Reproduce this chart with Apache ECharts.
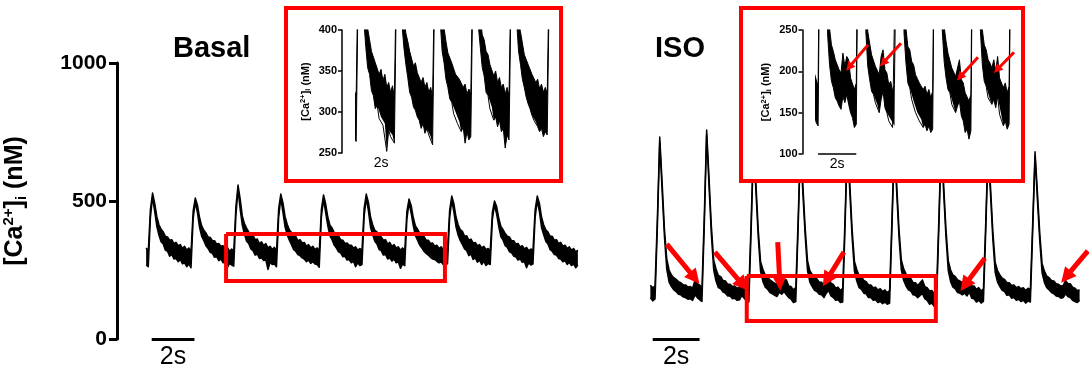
<!DOCTYPE html>
<html>
<head>
<meta charset="utf-8">
<script src="https://cdn.jsdelivr.net/npm/echarts@6/dist/echarts.min.js"></script>
<style>
  html, body { margin: 0; padding: 0; background: #fff; }
  #chart { width: 1089px; height: 378px; }
</style>
</head>
<body>
<div id="chart"></div>
<script>
// sampling interval of the traces (s)
const DT = 0.1;
const BASAL_T0 = 0.1;
const ISO_T0 = 0.1;

// [Ca2+]i (nM) noise band of each trace: lower and upper edge, one value every DT s
const basalLow = [
  268, 262,
  440, 514, 462, 408, 376, 352, 344, 322, 318, 300, 306, 290, 292, 280, 288, 272, 276, 262, 272, 258,
  436, 496, 458, 404, 372, 356, 338, 328, 314, 310, 296, 298, 284, 290, 276, 280, 258, 274, 268, 264,
  448, 542, 470, 412, 380, 354, 346, 326, 320, 304, 308, 292, 294, 284, 286, 252, 278, 270, 272, 262,
  440, 510, 460, 406, 378, 358, 342, 324, 318, 306, 302, 294, 290, 280, 286, 274, 280, 272, 270, 260,
  442, 506, 458, 410, 374, 360, 340, 330, 316, 312, 298, 300, 286, 288, 276, 282, 262, 276, 266, 270,
  444, 510, 464, 404, 378, 354, 344, 324, 320, 304, 306, 290, 294, 282, 290, 276, 280, 256, 272, 266,
  434, 492, 456, 410, 374, 358, 340, 330, 318, 310, 304, 296, 290, 288, 282, 276, 280, 270, 276, 272,
  438, 502, 460, 406, 376, 356, 342, 326, 320, 302, 308, 288, 294, 278, 286, 270, 282, 266, 274, 270,
  432, 486, 452, 406, 370, 358, 338, 332, 316, 312, 300, 298, 286, 290, 278, 280, 258, 276, 268, 272,
  440, 502, 462, 404, 378, 354, 344, 324, 318, 306, 304, 292, 290, 280, 284, 270, 278, 266, 272, 258,
  268
];
const basalHigh = [
  330, 318,
  470, 529, 492, 444, 414, 398, 388, 372, 370, 358, 360, 346, 350, 338, 342, 328, 336, 322, 330, 316,
  464, 511, 486, 440, 410, 394, 384, 370, 368, 356, 356, 344, 346, 336, 338, 326, 332, 318, 326, 320,
  480, 558, 508, 446, 418, 402, 388, 374, 376, 360, 362, 346, 352, 338, 346, 330, 336, 324, 332, 318,
  472, 525, 494, 444, 416, 396, 386, 374, 372, 356, 360, 348, 350, 336, 342, 330, 336, 324, 330, 318,
  470, 522, 490, 442, 412, 402, 386, 372, 374, 360, 358, 346, 348, 340, 340, 330, 334, 322, 328, 322,
  474, 525, 496, 442, 414, 394, 388, 374, 370, 358, 360, 344, 350, 336, 342, 330, 334, 322, 330, 320,
  462, 507, 484, 440, 410, 398, 384, 370, 372, 358, 358, 346, 348, 336, 340, 328, 334, 324, 330, 322,
  466, 518, 490, 442, 414, 396, 390, 372, 374, 358, 362, 348, 350, 338, 342, 330, 336, 324, 328, 320,
  460, 500, 480, 438, 408, 396, 382, 372, 370, 356, 356, 344, 346, 334, 338, 326, 332, 320, 326, 322,
  468, 518, 492, 442, 414, 396, 388, 372, 372, 358, 360, 346, 350, 336, 340, 328, 334, 322, 328, 316,
  322
];
const isoLow = [
  150, 138, 145,
  405, 715, 540, 372, 252, 206, 190, 178, 172, 162, 160, 152, 150, 144, 146, 140, 160, 150, 142, 136,
  410, 740, 556, 380, 250, 210, 186, 182, 170, 166, 156, 156, 146, 148, 140, 142, 158, 148, 138, 134,
  400, 704, 536, 368, 244, 208, 188, 180, 168, 164, 158, 154, 170, 162, 172, 160, 150, 144, 132, 136,
  398, 700, 532, 374, 248, 206, 190, 176, 172, 162, 160, 150, 166, 176, 156, 150, 140, 142, 132, 134,
  404, 708, 538, 370, 246, 210, 186, 180, 166, 164, 150, 150, 140, 142, 132, 136, 128, 134, 126, 130,
  402, 702, 534, 368, 250, 212, 192, 178, 174, 160, 158, 150, 158, 164, 146, 140, 126, 130, 118, 128,
  404, 706, 536, 372, 248, 208, 188, 182, 168, 166, 160, 166, 156, 170, 148, 146, 134, 140, 130, 136,
  394, 690, 526, 362, 242, 206, 190, 176, 172, 158, 160, 148, 150, 140, 144, 136, 140, 130, 138, 134,
  390, 662, 504, 356, 240, 204, 186, 178, 168, 164, 156, 154, 148, 150, 164, 154, 150, 140, 136, 132,
  140
];
const isoHigh = [
  195, 186, 192,
  440, 732, 572, 400, 290, 250, 232, 222, 216, 208, 204, 196, 196, 188, 190, 184, 212, 200, 196, 184,
  448, 757, 588, 412, 286, 254, 230, 226, 212, 210, 198, 198, 190, 192, 184, 188, 208, 198, 190, 182,
  436, 720, 566, 396, 280, 252, 232, 224, 214, 208, 202, 198, 222, 206, 218, 214, 192, 190, 178, 186,
  432, 715, 562, 404, 284, 248, 234, 220, 218, 206, 206, 196, 218, 226, 202, 198, 184, 188, 176, 184,
  440, 725, 570, 400, 282, 252, 230, 226, 212, 208, 196, 196, 186, 188, 178, 182, 172, 178, 168, 176,
  436, 718, 564, 398, 286, 254, 236, 222, 220, 204, 204, 194, 204, 214, 190, 186, 174, 176, 164, 172,
  438, 722, 566, 402, 284, 250, 232, 226, 214, 210, 204, 214, 200, 218, 192, 192, 180, 186, 174, 182,
  428, 705, 554, 392, 278, 248, 232, 220, 216, 204, 204, 194, 196, 186, 190, 182, 186, 176, 184, 178,
  422, 678, 534, 386, 274, 246, 228, 222, 212, 210, 200, 198, 192, 194, 212, 200, 200, 188, 184, 176,
  178
];

// axis ticks
const mainTicks = [0, 500, 1000];
const basalInsetTicks = [250, 400];
const isoInsetTicks = [100, 250];

// x ranges (s)
const basalRange = [0, 20.4];
const isoRange = [0, 18.8];
const basalInsetT = [4.19, 14.45];
const isoInsetT = [4.19, 14.4];

// zoomed windows: [t0, t1] and [ca0, ca1]
const basalBoxT = [3.84, 14.08];
const basalBoxCa = [210, 380];
const isoBoxT = [4.21, 12.27];
const isoBoxCa = [65, 228];

// 2 s scale bars [t start, t end, ca]
const basalBar = [0.36, 2.36, 0];
const isoBar = [0.2, 2.2, 0];
const basalInsetBar = [4.5, 6.5, 250];
const isoInsetBar = [4.3, 6.3, 100];

// arrows: [t tail, ca tail, t head, ca head]
const isoArrows = [
  [0.80, 344, 1.99, 221],
  [2.85, 315, 4.04, 196],
  [5.53, 351, 5.62, 203],
  [8.35, 315, 7.62, 214],
  [14.36, 293, 13.51, 196],
  [18.75, 319, 17.82, 225]
];
const isoInsetArrows = [
  [6.91, 232, 5.92, 205],
  [8.64, 234, 7.70, 210],
  [12.67, 217, 11.73, 193],
  [14.56, 223, 13.67, 202]
];

const FONT = "'Liberation Sans', Arial, sans-serif";
const RED = '#ff0000';
// x axes are time axes (ms) so that stacking works on the Ca values
const ms = s => Math.round(s * 1000);

function timed(values, t0) {
  return values.map((v, i) => [ms(t0 + i * DT), v]);
}
const basalLowData = timed(basalLow, BASAL_T0);
const basalBandData = timed(basalHigh.map((v, i) => v - basalLow[i]), BASAL_T0);
const isoLowData = timed(isoLow, ISO_T0);
const isoBandData = timed(isoHigh.map((v, i) => v - isoLow[i]), ISO_T0);

function boxPath(t, c) {
  return [[ms(t[0]), c[1]], [ms(t[1]), c[1]], [ms(t[1]), c[0]], [ms(t[0]), c[0]], [ms(t[0]), c[1]]];
}

function arrowData(list) {
  return list.map(a => ({ coords: [[ms(a[0]), a[1]], [ms(a[2]), a[3]]] }));
}

// the basal inset bar is white in the original, only its label shows
function scaleBar(bar, width, size, color, dist) {
  return {
    silent: true,
    symbol: 'none',
    animation: false,
    lineStyle: { color: color, width: width, type: 'solid' },
    label: {
      show: true,
      formatter: '2s',
      position: 'insideMiddleBottom',
      distance: dist,
      color: '#000',
      fontFamily: FONT,
      fontSize: size
    },
    data: [[{ coord: [ms(bar[0]), bar[2]] }, { coord: [ms(bar[1]), bar[2]] }]]
  };
}

// a trace = lower edge + stacked band filled in black
function trace(id, axis, lowData, bandData, z, lw, bar) {
  const common = {
    type: 'line', xAxisIndex: axis, yAxisIndex: axis, stack: id,
    symbol: 'none', z: z, silent: true,
    lineStyle: { color: '#000', width: lw, join: 'round' }
  };
  return [
    Object.assign({ name: id + ' low', data: lowData, markLine: bar }, common),
    Object.assign({ name: id + ' band', data: bandData, areaStyle: { color: '#000', opacity: 1 } }, common)
  ];
}

function caName(big, small, lh) {
  return {
    name: '{a|[Ca}{b|2+}{a|]}{c|i}{a| (nM)}',
    nameLocation: 'middle',
    nameTextStyle: {
      rich: {
        a: { fontSize: big, fontWeight: 'bold', fontFamily: FONT, color: '#000', lineHeight: lh },
        b: { fontSize: small, fontWeight: 'bold', fontFamily: FONT, color: '#000', lineHeight: small, verticalAlign: 'top' },
        c: { fontSize: small, fontWeight: 'bold', fontFamily: FONT, color: '#000', lineHeight: small, verticalAlign: 'bottom' }
      }
    }
  };
}

function axisStyle(lineW, tickLen, fontSize, margin) {
  return {
    axisLine: { show: true, onZero: false, lineStyle: { color: '#000', width: lineW } },
    axisTick: { show: true, length: tickLen, lineStyle: { color: '#000', width: lineW } },
    axisLabel: { margin: margin, color: '#000', fontFamily: FONT, fontSize: fontSize, fontWeight: 'bold', formatter: v => String(v) },
    splitLine: { show: false }
  };
}

function timeAxis(grid, range, z) {
  return { gridIndex: grid, type: 'time', min: ms(range[0]), max: ms(range[1]), show: false, z: z };
}

const chart = echarts.init(document.getElementById('chart'), null, { renderer: 'canvas' });

const option = {
  animation: false,
  backgroundColor: '#fff',
  title: [
    { text: 'Basal', left: 168, top: 29, textStyle: { fontFamily: FONT, fontSize: 29, fontWeight: 'bold', color: '#000' } },
    { text: 'ISO', left: 650, top: 29, textStyle: { fontFamily: FONT, fontSize: 29, fontWeight: 'bold', color: '#000' } }
  ],
  grid: [
    { left: 144, top: 63, width: 436, height: 276 },
    { left: 648, top: 63, width: 441, height: 276 },
    { left: 356, top: 30, width: 196, height: 123, z: 10 },
    { left: 816, top: 30, width: 195, height: 124, z: 10 }
  ],
  xAxis: [
    timeAxis(0, basalRange, 0),
    timeAxis(1, isoRange, 0),
    timeAxis(2, basalInsetT, 10),
    timeAxis(3, isoInsetT, 10)
  ],
  yAxis: [
    Object.assign({
      gridIndex: 0, type: 'value', min: mainTicks[0], max: mainTicks[2], interval: 500,
      offset: 27, nameGap: 88
    }, axisStyle(3, 8, 21, 10), caName(25, 15, 28)),
    { gridIndex: 1, type: 'value', min: mainTicks[0], max: mainTicks[2], show: false },
    Object.assign({
      gridIndex: 2, type: 'value', min: basalInsetTicks[0], max: basalInsetTicks[1], interval: 50,
      offset: 14, nameGap: 30, z: 10
    }, axisStyle(1.5, 4, 11, 5), caName(11, 7.5, 13)),
    Object.assign({
      gridIndex: 3, type: 'value', min: isoInsetTicks[0], max: isoInsetTicks[1], interval: 50,
      offset: 13.5, nameGap: 30, z: 10
    }, axisStyle(1.5, 4, 11, 5), caName(11, 7.5, 13))
  ],
  graphic: [
    { type: 'rect', z: 5, shape: { x: 286, y: 8, width: 275, height: 173 }, style: { fill: '#fff', stroke: RED, lineWidth: 4 } },
    { type: 'rect', z: 5, shape: { x: 741, y: 8, width: 282, height: 173 }, style: { fill: '#fff', stroke: RED, lineWidth: 4 } }
  ],
  series: [].concat(
    trace('Basal', 0, basalLowData, basalBandData, 2, 1.5, scaleBar(basalBar, 3, 25, '#000', 6)),
    trace('ISO', 1, isoLowData, isoBandData, 2, 1.5, scaleBar(isoBar, 3, 25, '#000', 6)),
    [
      {
        name: 'Basal box', type: 'line', xAxisIndex: 0, yAxisIndex: 0, data: boxPath(basalBoxT, basalBoxCa),
        symbol: 'none', z: 3, silent: true, lineStyle: { color: RED, width: 4, join: 'miter' }
      },
      {
        name: 'ISO box', type: 'line', xAxisIndex: 1, yAxisIndex: 1, data: boxPath(isoBoxT, isoBoxCa),
        symbol: 'none', z: 3, silent: true, lineStyle: { color: RED, width: 4, join: 'miter' }
      },
      {
        name: 'ISO arrows', type: 'lines', coordinateSystem: 'cartesian2d', xAxisIndex: 1, yAxisIndex: 1,
        z: 4, silent: true, clip: false,
        symbol: ['none', 'triangle'], symbolSize: 15,
        lineStyle: { color: RED, width: 5, opacity: 1 },
        data: arrowData(isoArrows)
      }
    ],
    trace('Basal inset', 2, basalLowData, basalBandData, 10, 1, scaleBar(basalInsetBar, 1.5, 14, '#fff', 3)),
    trace('ISO inset', 3, isoLowData, isoBandData, 10, 1, scaleBar(isoInsetBar, 1.5, 14, '#000', 3)),
    [
      {
        name: 'ISO inset arrows', type: 'lines', coordinateSystem: 'cartesian2d', xAxisIndex: 3, yAxisIndex: 3,
        z: 11, silent: true, clip: false,
        symbol: ['none', 'triangle'], symbolSize: 9,
        lineStyle: { color: RED, width: 3, opacity: 1 },
        data: arrowData(isoInsetArrows)
      }
    ]
  )
};

chart.setOption(option);
</script>
</body>
</html>
